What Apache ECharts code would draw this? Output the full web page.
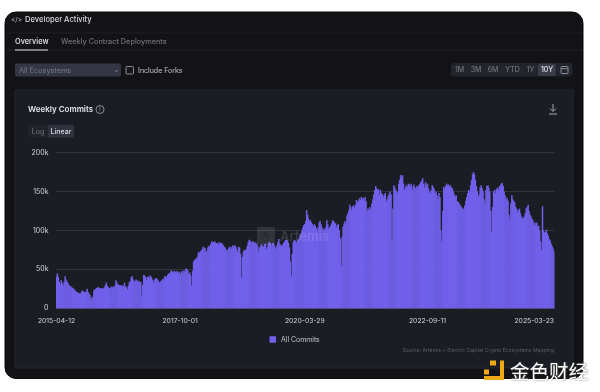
<!DOCTYPE html>
<html><head><meta charset="utf-8">
<style>html,body{margin:0;padding:0;background:#fff}#c{width:600px;height:392px}</style>
<script src="https://cdn.jsdelivr.net/npm/echarts@6/dist/echarts.min.js"></script>
</head><body><div id="c"></div>
<script>
const START_DATE = '2015-04-12';
const TICK_DATES = ['2015-04-12','2017-10-01','2020-03-29','2022-09-11','2025-03-23'];
const Y_TICKS = [0,50000,100000,150000,200000];
const SERIES_NAME = 'All Commits';
// weekly commits, thousands
const COMMITS_K = [
41,45,40,34,30,36,32,29,34,41,
37,34,33,30,29,28,27,26,25,24,
22,21,20,20,19,19,21,23,22,21,
20,22,25,21,19,17,14,11,15,23,
24,25,26,27,27,26,26,25,26,25,
27,30,33,29,27,25,26,28,26,28,
27,29,36,33,31,30,30,29,30,28,
29,33,28,27,24,29,33,35,40,41,
37,34,35,37,36,34,35,33,34,16,
30,43,42,40,37,40,41,39,42,40,
37,33,36,38,39,38,36,34,33,35,
36,38,37,41,41,40,43,45,44,47,
49,47,46,48,47,46,48,45,47,43,
46,48,45,49,47,51,50,49,44,46,
42,29,48,60,62,63,64,66,72,71,
73,74,76,79,78,77,72,74,78,80,
80,83,86,84,85,86,84,83,84,82,
85,83,84,83,81,79,78,75,73,76,
78,79,76,79,81,79,81,79,76,72,
79,78,70,39,66,73,75,74,76,80,
85,88,87,85,84,86,85,84,84,83,
80,73,78,81,82,80,79,82,83,76,
79,83,85,84,80,83,84,82,79,76,
81,85,89,83,81,80,82,84,86,88,
88,87,84,78,60,41,70,85,88,87,
84,86,88,90,94,96,100,104,107,108,
112,126,120,115,112,113,110,108,105,108,
106,103,99,104,110,112,108,104,100,102,
100,104,113,108,102,104,106,109,113,112,
110,109,104,107,108,100,90,55,92,105,
109,112,109,119,122,126,133,130,126,131,
132,129,133,139,136,138,141,139,143,140,
142,138,143,137,124,128,126,130,128,135,
140,146,152,157,154,152,153,146,152,148,
146,143,146,148,137,140,144,147,150,146,
86,128,158,155,152,150,148,160,165,171,
168,171,160,152,155,158,156,160,159,156,
160,152,156,159,155,153,157,155,158,160,
162,164,167,160,155,162,158,160,154,150,
148,152,158,156,153,148,150,145,140,148,
143,100,86,125,156,154,157,160,158,159,
156,158,155,154,150,146,143,145,137,137,
135,133,131,129,127,128,132,138,143,148,
152,150,158,165,172,175,172,165,157,150,
143,146,155,158,154,150,140,135,152,157,
158,155,150,125,98,130,150,152,148,153,
155,152,156,158,160,161,157,150,145,139,
142,138,120,115,135,145,140,138,136,130,
128,124,126,128,122,118,115,116,118,122,
128,130,133,125,120,118,115,113,108,110,
107,110,105,106,100,86,75,131,100,97,
98,101,96,93,89,87,83,80,77,73
];
const categories = COMMITS_K.map((_, i) => new Date(Date.parse(START_DATE + 'T00:00:00Z') + i * 7 * 864e5).toISOString().slice(0, 10));
const values = COMMITS_K.map(v => v * 1000);

const FONT = 'Inter, "Noto Sans", sans-serif';
const txt = (x, y, text, fill, size, weight, align, z) => ({type:'text', z: z === undefined ? -1 : z, silent:true,
  style:{x, y, text, fill, fontSize:size, fontWeight:weight||400, fontFamily:FONT, textAlign:align||'left', textVerticalAlign:'middle'}});
const box = (x, y, w, h, fill, r, stroke, z) => ({type:'rect', z: z === undefined ? -5 : z, silent:true,
  shape:{x, y, width:w, height:h, r:r||0}, style:{fill, stroke:stroke||null, lineWidth:stroke?1:0}});
const seg = (x1, y1, x2, y2, stroke, lw, z) => ({type:'line', z: z === undefined ? -3 : z, silent:true,
  shape:{x1, y1, x2, y2}, style:{stroke, lineWidth:lw||1}});

const graphics = [
  box(5,12,578,366.5,'#131317',11,'#0b0b0d'),
  seg(6,33,582,33,'#1f2024'), seg(6,50,582,50,'#232428'),
  txt(11,20,'</>','#b9bbc2',6.5),
  txt(25,20,'Developer Activity','#d9dade',7.6,500),
  txt(15,42,'Overview','#e8e9ec',7.4,500),
  seg(15,50,48,50,'#dfe0e4',1),
  txt(61,42,'Weekly Contract Deployments','#6f7179',7.3,500),
  box(15,63.5,106,13,'#343743',2),
  txt(19,70.5,'All Ecosystems','#767a88',7.3),
  txt(114,70,'⌄','#9a9dab',6),
  box(126,66.5,7.5,7.5,'#17181c',1,'#8b8d94',-3),
  txt(138,70.5,'Include Forks','#c3c5cb',7),
  box(451,63,121.5,13.5,'#23252c',3),
  box(538,63.5,17.5,12.5,'#3b3e49',2,null,-4),
  txt(459.5,70,'1M','#7e818b',7,400,'center'),
  txt(476,70,'3M','#7e818b',7,400,'center'),
  txt(493,70,'6M','#7e818b',7,400,'center'),
  txt(512.5,70,'YTD','#7e818b',7,400,'center'),
  txt(530.5,70,'1Y','#7e818b',7,400,'center'),
  txt(547,70,'10Y','#e3e4e8',7,500,'center'),
  box(561,66.5,7,7,'none',1,'#8a8d96',-3),
  seg(561,68.7,568,68.7,'#8a8d96',1),
  box(15,90,558,278,'#1a1d24',0,'#24272e'),
  txt(28,109.5,'Weekly Commits','#e4e5e9',8,600),
  {type:'circle', z:-3, silent:true, shape:{cx:100,cy:109.5,r:4}, style:{fill:'none',stroke:'#a9abb2',lineWidth:0.8}},
  txt(100,109.5,'i','#a9abb2',5.5,400,'center'),
  box(28,125,46,12.5,'#20232a',1),
  box(48,125,26,12.5,'#30333d',1,null,-4),
  txt(38,131.5,'Log','#73767f',7,400,'center'),
  txt(61,131.5,'Linear','#d8d9dd',7,500,'center'),
  seg(553,104,553,111,'#a6a8ae',1), seg(550,108.5,553,111.5,'#a6a8ae',1), seg(556,108.5,553,111.5,'#a6a8ae',1),
  seg(549,114,557,114,'#a6a8ae',1),
  txt(554,350.5,'Source: Artemis + Electric Capital Crypto Ecosystems Mapping','#5a5d66',5.1,400,'right'),
  // Artemis mark over the bars
  box(257,227,18,18,'rgba(255,255,255,0.10)',2,null,10),
  txt(265.5,236,'A','rgba(30,30,40,0.35)',11,700,'center',11),
  txt(280,237,'Artemis','rgba(255,255,255,0.13)',13,600,'left',11),
  // publisher mark, bottom right
  box(484,369.5,5,5,'#eea716',0,null,20),
  box(490,360.5,6,5,'#eea716',0,null,20),
  box(484,376,20,4,'#eea716',0,null,20),
  box(500,360.5,4,19,'#eea716',0,null,20),
  {type:'text', z:20, silent:true, style:{x:510,y:371.5,text:'金色财经',fill:'#fff',fontSize:19.5,fontFamily:'"Noto Sans CJK SC"',textVerticalAlign:'middle',
    textShadowColor:'rgba(90,90,90,0.9)',textShadowBlur:2,textShadowOffsetX:0.5,textShadowOffsetY:0.5}}
];

const chart = echarts.init(document.getElementById('c'), null, {renderer:'canvas'});
chart.setOption({
  animation:false,
  backgroundColor:'transparent',
  graphic:{elements:graphics},
  grid:{left:56,right:45.5,top:152.5,bottom:83.7},
  legend:{show:true,data:[SERIES_NAME],bottom:49,left:269.5,itemWidth:6.5,itemHeight:6.5,itemGap:3,icon:'rect',
    textStyle:{color:'#c6c8ce',fontSize:6.9,fontFamily:FONT,padding:[0,0,0,0]},padding:0},
  xAxis:{type:'category',data:categories,boundaryGap:true,
    axisTick:{show:false},axisLine:{show:true,lineStyle:{color:'#3f424a',width:1}},
    axisLabel:{color:'#d6d7db',fontSize:6.8,fontFamily:FONT,margin:9,hideOverlap:false,showMinLabel:true,showMaxLabel:true,alignMaxLabel:'right',
      interval:(i, v) => TICK_DATES.includes(v)}},
  yAxis:{type:'value',min:0,max:200000,interval:50000,
    axisLine:{show:false},axisTick:{show:false},
    splitLine:{lineStyle:{color:'#31343b',width:1}},
    axisLabel:{color:'#d6d7db',fontSize:7,fontFamily:FONT,margin:7.5,
      formatter:v => Y_TICKS.includes(v) ? (v === 0 ? '0' : (v/1000)+'k') : ''}},
  series:[{name:SERIES_NAME,type:'bar',data:values,barWidth:1.5,barGap:'0%',
    itemStyle:{color:'#7160EA'},emphasis:{disabled:true}}]
});
</script></body></html>
